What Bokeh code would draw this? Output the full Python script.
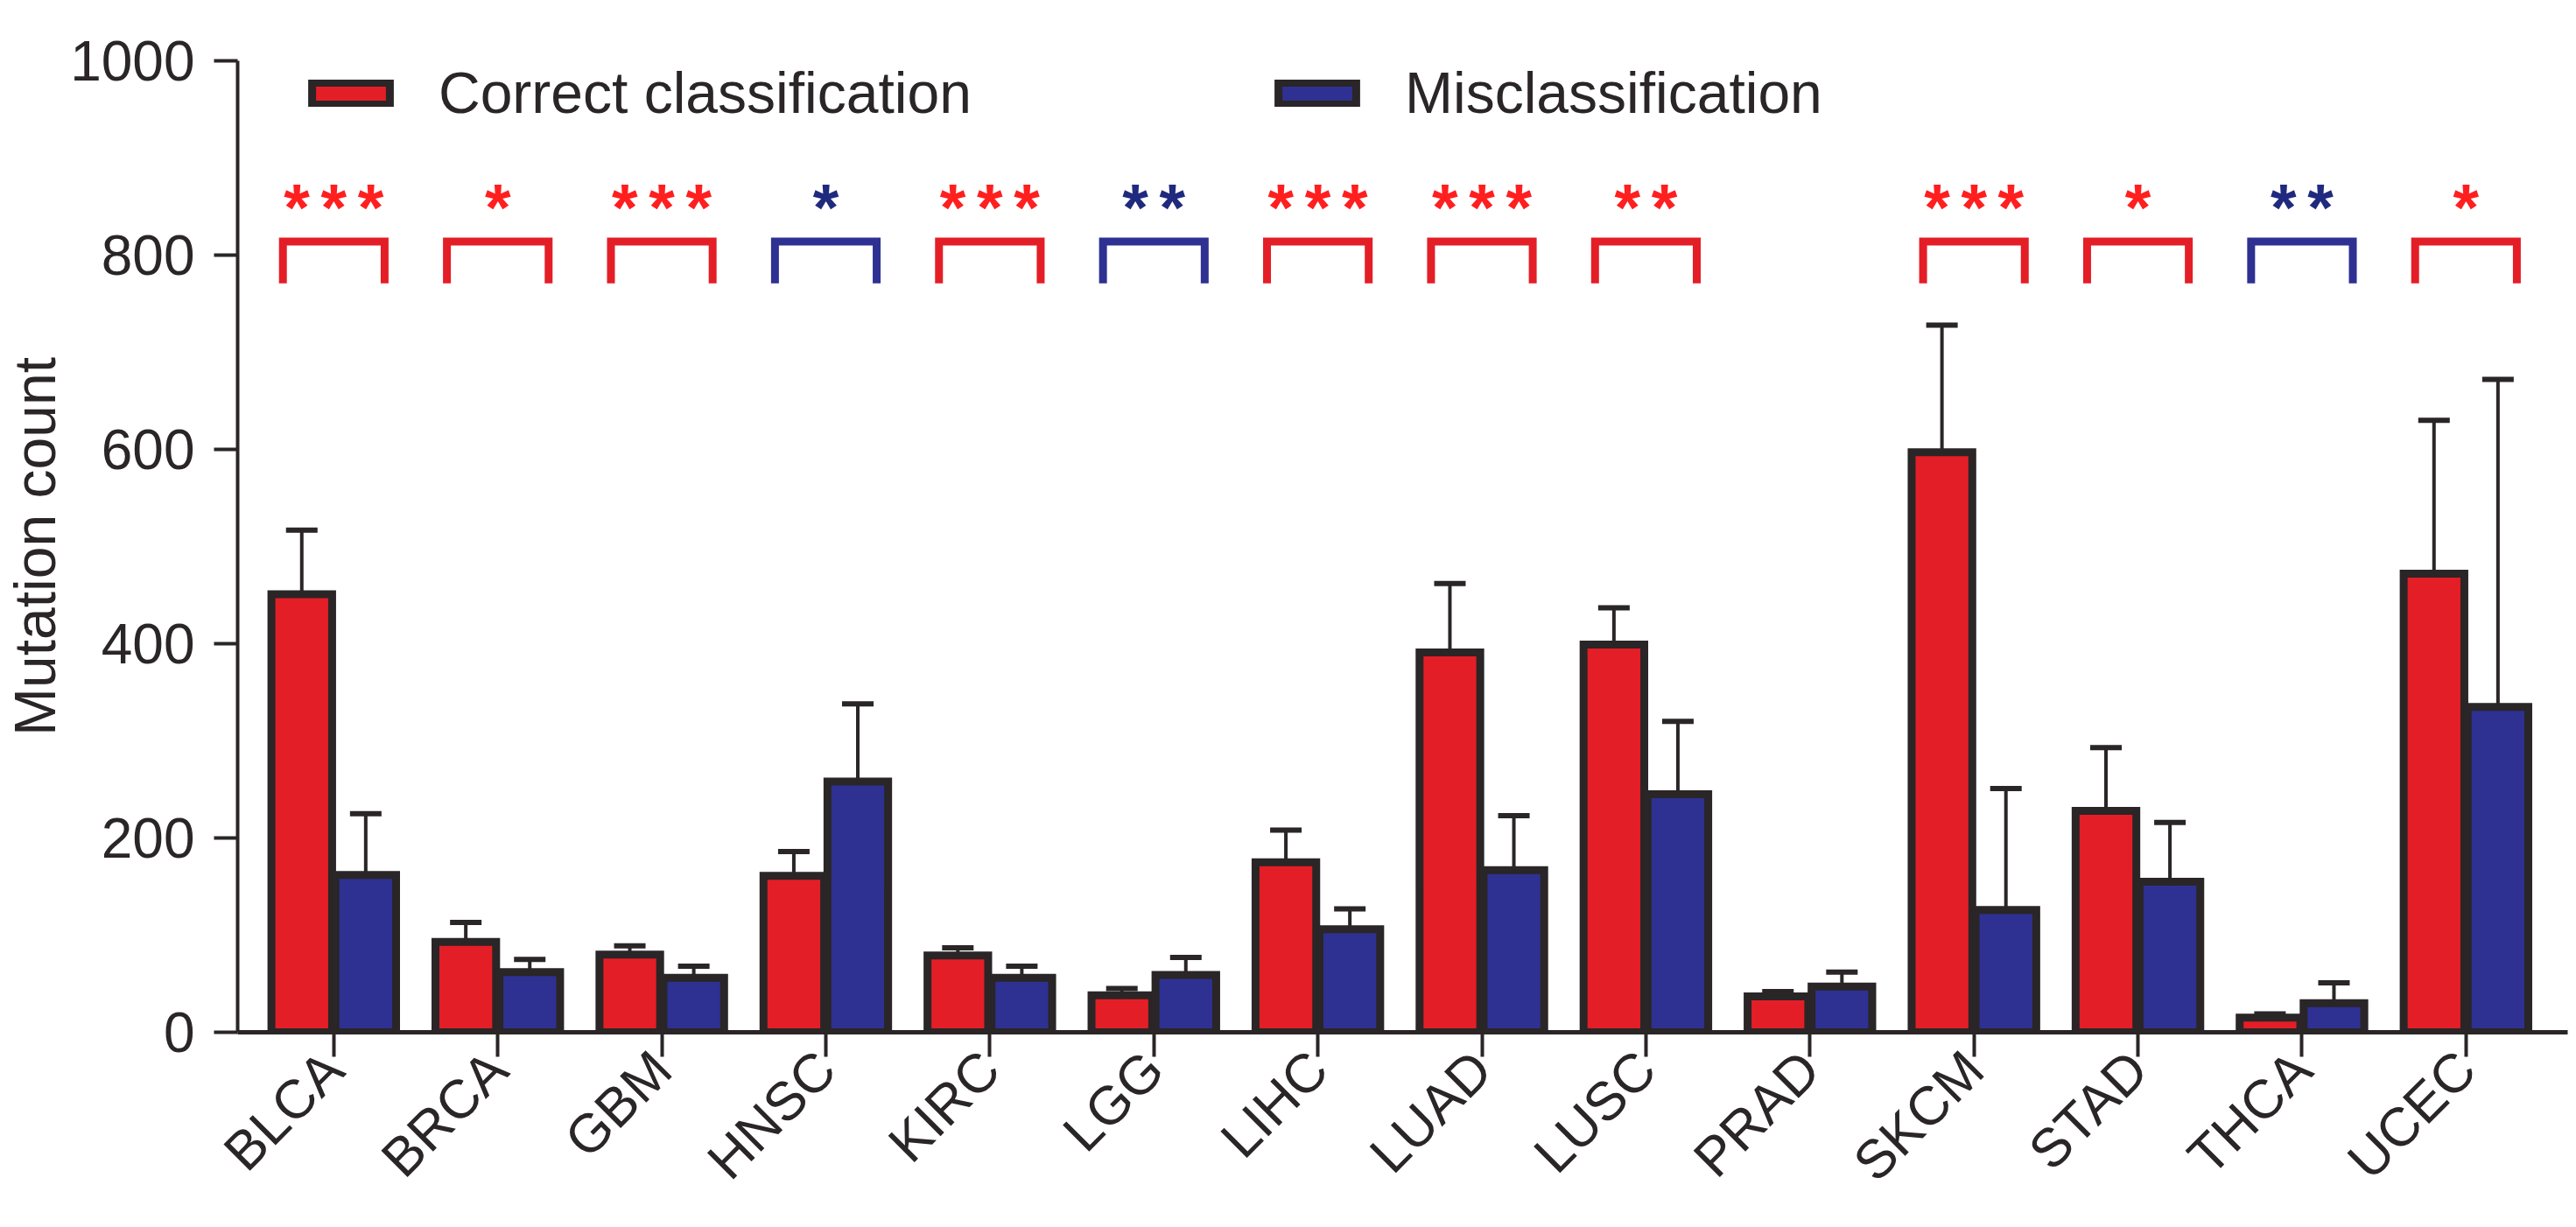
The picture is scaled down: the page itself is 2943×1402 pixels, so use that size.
from bokeh.plotting import figure
from bokeh.models import (Range1d, FixedTicker, Legend, LegendItem, Whisker,
                          TeeHead, ColumnDataSource)
from bokeh.transform import dodge
from bokeh.core.properties import value
from bokeh.embed import file_html
from bokeh.resources import INLINE

# ---- data -------------------------------------------------------------
categories = ["BLCA", "BRCA", "GBM", "HNSC", "KIRC", "LGG", "LIHC",
              "LUAD", "LUSC", "PRAD", "SKCM", "STAD", "THCA", "UCEC"]
correct_mean = [451, 93, 80, 161, 79, 38, 175, 391, 399, 37, 597, 228, 15, 472]
correct_upper = [517, 113, 89, 186, 87, 45, 208, 462, 437, 42, 728, 293, 19, 630]
mis_mean = [162, 62, 56, 258, 56, 59, 106, 167, 245, 47, 126, 155, 30, 335]
mis_upper = [225, 75, 68, 338, 68, 77, 127, 223, 320, 62, 251, 216, 51, 672]
sig_stars = ["***", "*", "***", "*", "***", "**", "***", "***", "**", "",
             "***", "*", "**", "*"]
sig_group = ["correct", "correct", "correct", "mis", "correct", "mis", "correct",
             "correct", "correct", "", "correct", "correct", "mis", "correct"]
y_ticks = [0, 200, 400, 600, 800, 1000]

# ---- style ------------------------------------------------------------
RED = "#e41e26"
BLUE = "#2e3192"
DARK = "#2a2526"
STAR_RED = "#ff1f1f"
STAR_BLUE = "#1f2a7e"
FONT = "Liberation Sans"

idx = list(range(len(categories)))
src = ColumnDataSource(dict(idx=idx, correct=correct_mean, correct_up=correct_upper,
                            mis=mis_mean, mis_up=mis_upper))

p = figure(width=2940, height=1400,
           x_range=Range1d(-0.586, len(categories) - 1 + 0.62),
           y_range=Range1d(0, 1000),
           output_backend="svg", toolbar_location=None,
           min_border_left=268, min_border_right=7, min_border_top=69,
           min_border_bottom=221)
p.outline_line_color = None
p.xgrid.grid_line_color = None
p.ygrid.grid_line_color = None
p.background_fill_color = "white"

off = 0.195
bw = 0.37
r_red = p.vbar(x=dodge("idx", -off), top="correct", width=bw, source=src,
               fill_color=RED, line_color=DARK, line_width=9, line_join="miter")
r_blue = p.vbar(x=dodge("idx", off), top="mis", width=bw, source=src,
                fill_color=BLUE, line_color=DARK, line_width=9, line_join="miter")

for col, up, dx in (("correct", "correct_up", -off), ("mis", "mis_up", off)):
    w = Whisker(source=src, base=dodge("idx", dx), lower=col, upper=up,
                line_color=DARK, line_width=4, lower_head=None,
                upper_head=TeeHead(size=36, line_width=6, line_color=DARK),
                level="glyph")
    p.add_layout(w)

# significance brackets and stars
bx, by, bc, sx, st, sc = [], [], [], [], [], []
for i, (s, g) in enumerate(zip(sig_stars, sig_group)):
    if not s:
        continue
    lc = RED if g == "correct" else BLUE
    bx.append([i - 0.31, i - 0.31, i + 0.31, i + 0.31])
    by.append([771, 814, 814, 771])
    bc.append(lc)
    sx.append(i)
    st.append("\u2006".join(s))
    sc.append(STAR_RED if g == "correct" else STAR_BLUE)

p.multi_line(xs=bx, ys=by, line_color=bc, line_width=9, line_cap="butt",
             line_join="miter")
p.text(x=sx, y=[850] * len(sx), text=st, text_color=sc,
       text_font=value(FONT), text_font_style="bold", text_font_size="76px",
       text_align="center", text_baseline="alphabetic")

# ---- axes -------------------------------------------------------------
p.xaxis.ticker = FixedTicker(ticks=idx)
p.xaxis.major_label_overrides = {i: c for i, c in enumerate(categories)}
p.xaxis.major_label_orientation = 0.785398
p.yaxis.ticker = FixedTicker(ticks=y_ticks)
for ax in (p.xaxis, p.yaxis):
    ax.axis_line_color = DARK
    ax.major_tick_line_color = DARK
    ax.major_tick_line_width = 4
    ax.major_tick_in = 0
    ax.minor_tick_line_color = None
    ax.major_label_text_font = FONT
    ax.major_label_text_color = DARK
p.xaxis.major_label_text_font_size = "62px"
p.yaxis.major_label_text_font_size = "64px"
p.xaxis.axis_line_width = 5
p.yaxis.axis_line_width = 4
p.xaxis.major_tick_out = 28
p.yaxis.major_tick_out = 27
p.xaxis.major_label_standoff = 4
p.yaxis.major_label_standoff = 22
p.yaxis.axis_label = "Mutation count"
p.yaxis.axis_label_text_font = FONT
p.yaxis.axis_label_text_font_size = "66px"
p.yaxis.axis_label_text_font_style = "normal"
p.yaxis.axis_label_text_color = DARK
p.yaxis.axis_label_standoff = 0

# ---- legend -----------------------------------------------------------
for label, rend, xloc in (("Correct classification", r_red, 74),
                          ("Misclassification", r_blue, 1178)):
    leg = Legend(items=[LegendItem(label=label, renderers=[rend])],
                 location=(xloc, 1035), orientation="horizontal",
                 glyph_width=111, glyph_height=31, label_standoff=45,
                 label_text_font=FONT, label_text_font_size="66px",
                 label_text_color=DARK, border_line_alpha=0,
                 background_fill_alpha=0, padding=0, margin=0)
    p.add_layout(leg, "center")

open("out.html", "w").write(file_html(p, INLINE))
